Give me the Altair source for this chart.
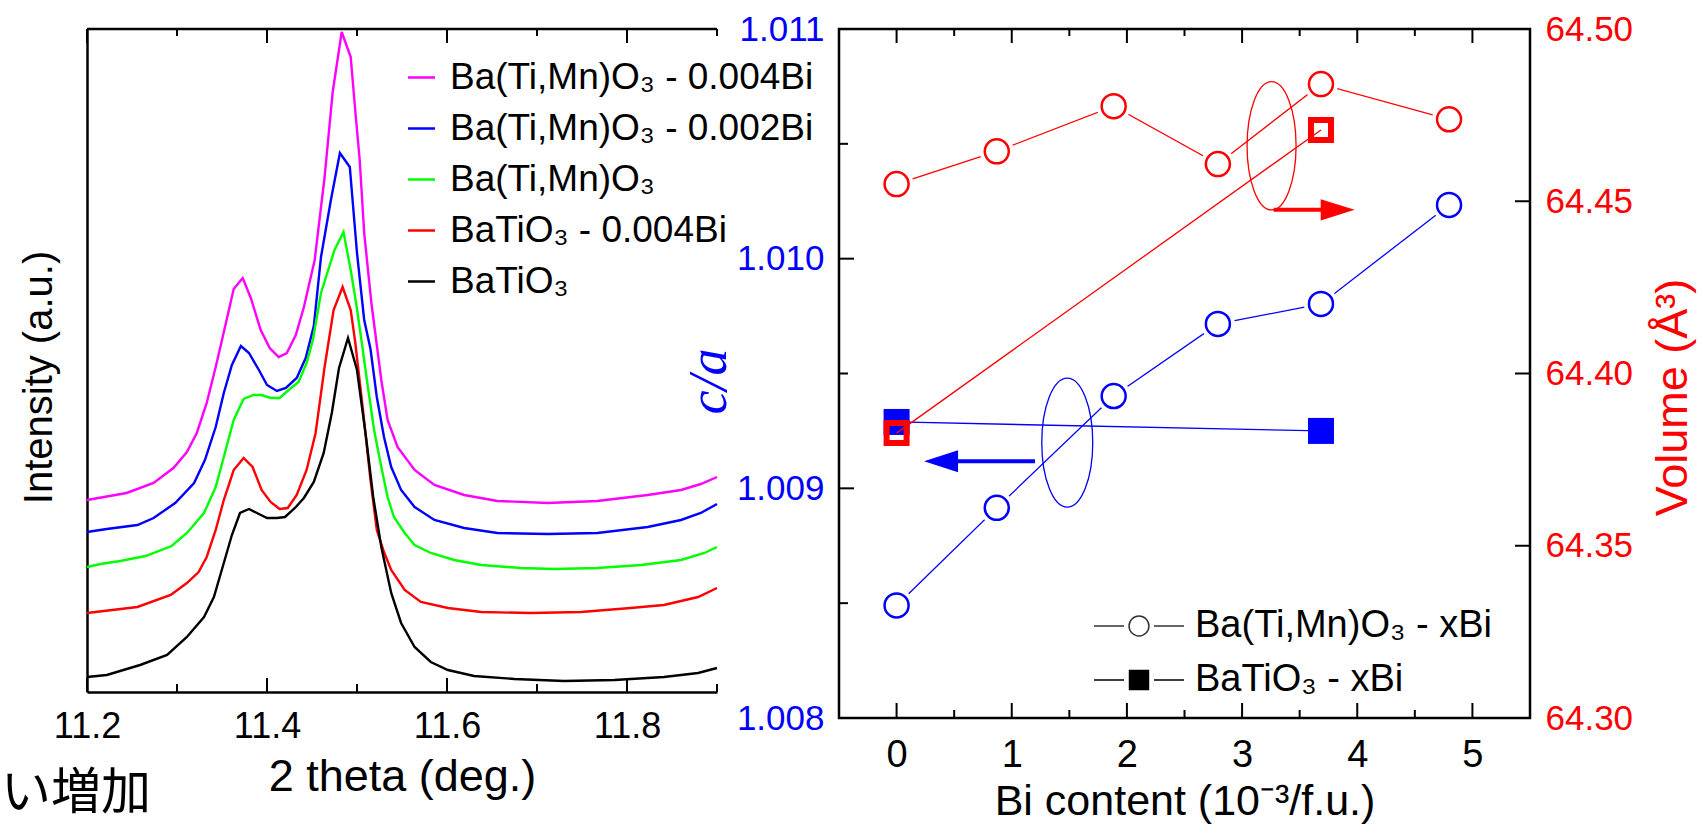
import altair as alt
import pandas as pd

FONT = "Liberation Sans"
SERIF = "Liberation Serif"
CJK = "Noto Sans CJK JP"

# ---------------- left panel: XRD profiles ----------------
S_MN4 = "Ba(Ti,Mn)O₃ - 0.004Bi"
S_MN2 = "Ba(Ti,Mn)O₃ - 0.002Bi"
S_MN = "Ba(Ti,Mn)O₃"
S_BT4 = "BaTiO₃ - 0.004Bi"
S_BT = "BaTiO₃"
series_order = [S_MN4, S_MN2, S_MN, S_BT4, S_BT]
series_colors = ["#FF00FF", "#0000FF", "#00FF00", "#FF0000", "#000000"]

theta_mn4 = [11.200, 11.244, 11.274, 11.296, 11.311, 11.322, 11.333, 11.343, 11.350, 11.363,
             11.373, 11.382, 11.393, 11.403, 11.413, 11.422, 11.432, 11.441, 11.453, 11.464,
             11.473, 11.483, 11.493, 11.498, 11.503, 11.508, 11.516, 11.523, 11.527, 11.534,
             11.545, 11.564, 11.586, 11.619, 11.656, 11.712, 11.767, 11.823, 11.860, 11.882, 11.900]
int_mn4 = [192, 199, 209, 224, 240, 259, 289, 325, 352, 403,
           414, 394, 362, 344, 335, 339, 357, 385, 432, 515,
           600, 660, 635, 582, 532, 459, 389, 340, 312, 272,
           245, 222, 207, 197, 191, 189, 191, 197, 202, 208, 215]

theta_mn2 = [11.200, 11.222, 11.256, 11.274, 11.298, 11.319, 11.331, 11.343, 11.352, 11.361,
             11.371, 11.380, 11.391, 11.400, 11.411, 11.421, 11.433, 11.443, 11.452, 11.460,
             11.471, 11.481, 11.492, 11.500, 11.508, 11.515, 11.522, 11.530, 11.538, 11.549,
             11.564, 11.586, 11.619, 11.656, 11.712, 11.767, 11.823, 11.860, 11.882, 11.900]
int_mn2 = [160, 163, 167, 174, 189, 209, 232, 265, 299, 327,
           346, 339, 322, 307, 301, 304, 314, 334, 366, 435,
           492, 539, 525, 439, 372, 343, 295, 255, 225, 202,
           185, 172, 164, 159, 158, 159, 165, 172, 179, 188]

theta_mn = [11.200, 11.215, 11.237, 11.265, 11.294, 11.311, 11.330, 11.343, 11.352, 11.363,
            11.374, 11.385, 11.394, 11.404, 11.414, 11.424, 11.435, 11.444, 11.451, 11.460,
            11.475, 11.485, 11.493, 11.499, 11.506, 11.511, 11.519, 11.527, 11.534, 11.541,
            11.553, 11.564, 11.582, 11.608, 11.638, 11.682, 11.719, 11.767, 11.816, 11.860,
            11.886, 11.900]
int_mn = [125, 128, 131, 136, 146, 159, 179, 205, 235, 272,
          293, 297, 297, 294, 294, 302, 310, 329, 352, 399,
          442, 460, 422, 389, 345, 312, 262, 225, 195, 175,
          159, 147, 139, 132, 127, 124, 123, 124, 127, 132,
          139, 145]

theta_bt4 = [11.200, 11.256, 11.293, 11.311, 11.324, 11.333, 11.343, 11.352, 11.363, 11.374,
             11.384, 11.394, 11.404, 11.414, 11.423, 11.433, 11.444, 11.454, 11.464, 11.474,
             11.484, 11.493, 11.498, 11.507, 11.515, 11.522, 11.530, 11.538, 11.553, 11.571,
             11.601, 11.638, 11.693, 11.749, 11.804, 11.841, 11.879, 11.900]
int_bt4 = [79, 85, 97, 109, 120, 135, 162, 192, 222, 234,
           225, 202, 190, 183, 184, 197, 222, 259, 325, 382,
           405, 382, 350, 279, 212, 162, 140, 122, 102, 90,
           84, 80, 79, 80, 84, 87, 95, 104]

theta_bt = [11.200, 11.222, 11.259, 11.289, 11.311, 11.330, 11.341, 11.352, 11.361, 11.370,
            11.380, 11.391, 11.400, 11.411, 11.420, 11.431, 11.441, 11.452, 11.463, 11.472,
            11.480, 11.490, 11.500, 11.510, 11.518, 11.527, 11.538, 11.549, 11.564, 11.582,
            11.601, 11.630, 11.675, 11.730, 11.786, 11.841, 11.879, 11.900]
int_bt = [15, 17, 27, 37, 55, 75, 95, 129, 157, 179,
          183, 178, 174, 174, 175, 184, 194, 210, 239, 279,
          324, 354, 322, 255, 195, 145, 99, 69, 45, 30,
          22, 16, 13, 11, 12, 15, 19, 24]

lx_label_values = [11.2, 11.4, 11.6, 11.8]
lx_major = [11.2, 11.4, 11.6, 11.8]
lx_minor = [11.3, 11.5, 11.7, 11.9]
cut_text = "い増加"

# ---------------- right panel: c/a and volume ----------------
bi_mn = [0.0, 0.87, 1.885, 2.79, 3.685, 4.797]
ca_mn = [1.00849, 1.008915, 1.009402, 1.009716, 1.009803, 1.010234]
vol_mn = [64.455, 64.4645, 64.4776, 64.4608, 64.484, 64.4738]
bi_bt = [0.0, 3.685]
ca_bt = [1.009289, 1.00925]
vol_bt = [64.3827, 64.4707]

rx_values = [0, 1, 2, 3, 4, 5]
rx_minor = [0.5, 1.5, 2.5, 3.5, 4.5]
ca_values = [1.008, 1.009, 1.010, 1.011]
ca_major = [1.009, 1.010]
ca_minor = [1.0085, 1.0095, 1.0105]
vol_values = [64.30, 64.35, 64.40, 64.45, 64.50]
vol_major = [64.35, 64.40, 64.45]

LEG_MN = "Ba(Ti,Mn)O₃ - xBi"
LEG_BT = "BaTiO₃ - xBi"
leg_order = [LEG_MN, LEG_BT]

# annotation anchors (data coordinates)
ELL_B = {"x": [1.482], "y": [1.0091989]}
ARR_B = {"x0": [0.50], "x1": [1.202], "y": [1.009118]}
HEAD_B = {"x": [0.386], "y": [1.009118]}
ELL_R = {"x": [3.256], "y": [64.4661]}
ARR_R = {"x0": [3.274], "x1": [3.72], "y": [64.4475]}
HEAD_R = {"x": [3.830], "y": [64.4475]}

ELL_B_PATH = "M0,-1 A0.395,1 0 1,1 0,1 A0.395,1 0 1,1 0,-1 Z"
ELL_R_PATH = "M0,-1 A0.382,1 0 1,1 0,1 A0.382,1 0 1,1 0,-1 Z"
TRI_R_PATH = "M-1,-0.62 L1,0 L-1,0.62 Z"
TRI_L_PATH = "M1,-0.65 L-1,0 L1,0.65 Z"
LEG_CIRC_PATH = ("M-3.75,0 L-1.25,0 M1.25,0 L3.75,0 "
                 "M0.83,0 A0.83,0.83 0 1,1 -0.83,0 A0.83,0.83 0 1,1 0.83,0")
LEG_SQ_PATH = "M-3.75,0 L-1.25,0 M1.25,0 L3.75,0 M-0.79,-0.79 L0.79,-0.79 L0.79,0.79 L-0.79,0.79 Z"

BLUE = "#0000FF"
RED = "#FF0000"

# ================= left panel =================
LW, LH = 630, 663
xl_scale = alt.Scale(domain=[11.2, 11.9], nice=False, zero=False)
yl_scale = alt.Scale(domain=[0, 663], nice=False, zero=False)

x_axis_l = alt.Axis(values=lx_label_values, format=".1f", labelFont=FONT, labelFontSize=36,
                    labelColor="black", labelPadding=17, labelFlush=False, ticks=False, tickSize=0,
                    domain=True, domainColor="black", domainWidth=2.5,
                    title="2 theta (deg.)", titleFont=FONT, titleFontSize=45,
                    titleFontWeight="normal", titleColor="black", titleY=84,
                    titleBaseline="middle", titleAlign="center", grid=False)
y_axis_l = alt.Axis(labels=False, ticks=False, tickSize=0, domain=True, domainColor="black",
                    domainWidth=2.5, title="Intensity (a.u.)", titleFont=FONT, titleFontSize=40,
                    titleFontWeight="normal", titleColor="black", titleAngle=270, titleX=-48,
                    titleY=348, titleAlign="center", titleBaseline="middle", grid=False)


def XL(f):
    return alt.X(f"{f}:Q", scale=xl_scale, axis=x_axis_l)


def curve_df(name, th, inten):
    assert len(th) == len(inten), name
    return pd.DataFrame({"theta": th, "intensity": inten, "sample": name})


xrd = pd.concat([
    curve_df(S_MN4, theta_mn4, int_mn4),
    curve_df(S_MN2, theta_mn2, int_mn2),
    curve_df(S_MN, theta_mn, int_mn),
    curve_df(S_BT4, theta_bt4, int_bt4),
    curve_df(S_BT, theta_bt, int_bt),
], ignore_index=True)

curves = alt.Chart(xrd).mark_line(strokeWidth=2.4).encode(
    x=XL("theta"),
    y=alt.Y("intensity:Q", scale=yl_scale, axis=y_axis_l),
    color=alt.Color("sample:N", sort=series_order,
                    scale=alt.Scale(domain=series_order, range=series_colors),
                    legend=alt.Legend(title=None, orient="none", legendX=316, legendY=30,
                                      symbolType="stroke", symbolSize=729, symbolStrokeWidth=2.5,
                                      labelFont=FONT, labelFontSize=37, labelColor="black",
                                      rowPadding=13, labelOffset=10, padding=0, labelLimit=800)),
)


def xl_ticks(values, y0, y1):
    return alt.Chart(pd.DataFrame({"v": values})).mark_rule(color="black", strokeWidth=2).encode(
        x=XL("v"), y=alt.value(y0), y2=alt.value(y1))


top_spine_l = alt.Chart(pd.DataFrame({"a": [0]})).mark_rule(color="black", strokeWidth=2.5).encode(
    x=alt.value(0), x2=alt.value(LW), y=alt.value(0))

cut_label = alt.Chart(pd.DataFrame({"t": [cut_text]})).mark_text(
    font=CJK, fontSize=50, align="left", baseline="middle", color="black").encode(
    x=alt.value(-86), y=alt.value(765), text="t:N")

left = alt.layer(
    curves,
    xl_ticks(lx_major, LH, LH - 14), xl_ticks(lx_minor, LH, LH - 8),
    xl_ticks(lx_major, 0, 14), xl_ticks(lx_minor, 0, 7),
    top_spine_l, cut_label,
).properties(width=LW, height=LH, view=alt.ViewBackground(stroke="transparent"))

# ================= right panel =================
RW, RH = 691, 689
xr_scale = alt.Scale(domain=[-0.5, 5.5], nice=False, zero=False)
ca_scale = alt.Scale(domain=[1.008, 1.011], nice=False, zero=False)
vol_scale = alt.Scale(domain=[64.30, 64.50], nice=False, zero=False)

x_axis_r = alt.Axis(values=rx_values, format="d", labelFont=FONT, labelFontSize=38,
                    labelColor="black", labelPadding=18, labelFlush=False, ticks=False, tickSize=0,
                    domain=False, title="Bi content (10⁻³/f.u.)", titleFont=FONT, titleFontSize=43,
                    titleFontWeight="normal", titleColor="black", titleY=83,
                    titleBaseline="middle", titleAlign="center", grid=False)
ca_axis = alt.Axis(orient="left", values=ca_values, format=".3f", labelFont=FONT, labelFontSize=35,
                   labelColor=BLUE, labelPadding=15, ticks=False, tickSize=0, domain=False,
                   title="c/a", titleFont=SERIF, titleFontStyle="italic", titleFontSize=54,
                   titleFontWeight="normal", titleColor=BLUE, titleAngle=270, titleX=-130,
                   titleY=352, titleAlign="center", titleBaseline="middle", grid=False)
vol_axis = alt.Axis(orient="right", values=vol_values, format=".2f", labelFont=FONT, labelFontSize=35,
                    labelColor=RED, labelPadding=15, ticks=False, tickSize=0, domain=False,
                    title="Volume (Å³)", titleFont=FONT, titleFontSize=45, titleFontWeight="normal",
                    titleColor=RED, titleAngle=270, titleX=142, titleY=368, titleAlign="center",
                    titleBaseline="middle", grid=False)


def XR(f):
    return alt.X(f"{f}:Q", scale=xr_scale, axis=x_axis_r)


def YCA(f):
    return alt.Y(f"{f}:Q", scale=ca_scale, axis=ca_axis)


def YV(f):
    return alt.Y(f"{f}:Q", scale=vol_scale, axis=vol_axis)


mn_df = pd.DataFrame({"bi": bi_mn, "ca": ca_mn, "vol": vol_mn})
bt_df = pd.DataFrame({"bi": bi_bt, "ca": ca_bt, "vol": vol_bt})


def series_layers(Y, field, color, square_open):
    line_mn = alt.Chart(mn_df).mark_line(color=color, strokeWidth=1.3).encode(x=XR("bi"), y=Y(field))
    line_bt = alt.Chart(bt_df).mark_line(color=color, strokeWidth=1.3).encode(x=XR("bi"), y=Y(field))
    halo = alt.Chart(mn_df).mark_point(filled=True, color="white", size=1156, opacity=1,
                                       strokeWidth=0).encode(x=XR("bi"), y=Y(field))
    circ = alt.Chart(mn_df).mark_point(shape="circle", filled=False, color=color, size=576,
                                       strokeWidth=2.5, opacity=1).encode(x=XR("bi"), y=Y(field))
    if square_open:
        sq = alt.Chart(bt_df).mark_point(shape="square", filled=False, color=color, size=400,
                                         strokeWidth=6, opacity=1).encode(x=XR("bi"), y=Y(field))
    else:
        sq = alt.Chart(bt_df).mark_point(shape="square", filled=True, color=color, size=676,
                                         opacity=1).encode(x=XR("bi"), y=Y(field))
    return line_mn, line_bt, halo, circ, sq


def annot(Y, ell, ell_path, ell_size, arr, head, head_path, color):
    e = alt.Chart(pd.DataFrame(ell)).mark_point(shape=ell_path, size=ell_size, filled=False,
                                                color=color, strokeWidth=1.3, opacity=1).encode(
        x=XR("x"), y=Y("y"))
    a = alt.Chart(pd.DataFrame(arr)).mark_rule(color=color, strokeWidth=4).encode(
        x=XR("x0"), x2=alt.X2("x1:Q"), y=Y("y"))
    h = alt.Chart(pd.DataFrame(head)).mark_point(shape=head_path, size=1156, filled=True,
                                                 color=color, opacity=1).encode(x=XR("x"), y=Y("y"))
    return e, a, h


def xr_ticks(values, y0, y1):
    return alt.Chart(pd.DataFrame({"v": values})).mark_rule(color="black", strokeWidth=2).encode(
        x=XR("v"), y=alt.value(y0), y2=alt.value(y1))


def y_ticks(values, Y, x0, x1):
    return alt.Chart(pd.DataFrame({"v": values})).mark_rule(color="black", strokeWidth=2).encode(
        y=Y("v"), x=alt.value(x0), x2=alt.value(x1))


def leg_r():
    # legends of a concatenated chart are placed relative to the first panel's origin
    return alt.Legend(title=None, orient="none", legendX=1033, legendY=578,
                      symbolSize=576, symbolStrokeColor="black", symbolStrokeWidth=1.5,
                      symbolOpacity=1, labelFont=FONT, labelFontSize=38, labelColor="black",
                      rowPadding=16, labelOffset=37, padding=0, labelLimit=800)


legend_r = alt.Chart(pd.DataFrame({"series": leg_order})).mark_point(
    opacity=0, strokeWidth=1.5).encode(
    x=XR("dummy"),
    shape=alt.Shape("series:N", sort=leg_order,
                    scale=alt.Scale(domain=leg_order, range=[LEG_CIRC_PATH, LEG_SQ_PATH]),
                    legend=leg_r()),
    fill=alt.Fill("series:N", sort=leg_order,
                  scale=alt.Scale(domain=leg_order, range=["transparent", "black"]),
                  legend=leg_r()),
    stroke=alt.Stroke("series:N", sort=leg_order,
                      scale=alt.Scale(domain=leg_order, range=["#333333", "black"]),
                      legend=leg_r()),
).transform_calculate(dummy="-1")

b_line_mn, b_line_bt, b_halo, b_circ, b_sq = series_layers(YCA, "ca", BLUE, False)
b_ell, b_arr, b_head = annot(YCA, ELL_B, ELL_B_PATH, 16641, ARR_B, HEAD_B, TRI_L_PATH, BLUE)

ca_group = alt.layer(
    b_line_mn, b_line_bt, b_ell, b_arr, b_head, b_halo, b_circ, b_sq,
    y_ticks(ca_major, YCA, 0, 15), y_ticks(ca_minor, YCA, 0, 9),
    xr_ticks(rx_values, RH, RH - 15), xr_ticks(rx_minor, RH, RH - 8),
    xr_ticks(rx_values, 0, 14), xr_ticks(rx_minor, 0, 7),
    legend_r,
)

r_line_mn, r_line_bt, r_halo, r_circ, r_sq = series_layers(YV, "vol", RED, True)
r_ell, r_arr, r_head = annot(YV, ELL_R, ELL_R_PATH, 16461, ARR_R, HEAD_R, TRI_R_PATH, RED)

vol_group = alt.layer(
    r_line_mn, r_line_bt, r_ell, r_arr, r_head, r_halo, r_circ, r_sq,
    y_ticks(vol_major, YV, RW, RW - 15),
)

right = alt.layer(ca_group, vol_group).resolve_scale(y="independent").properties(
    width=RW, height=RH, view=alt.ViewBackground(stroke="black", strokeWidth=2.5))

chart = alt.hconcat(left, right, spacing=122, bounds="flush").properties(
    padding={"left": 0, "top": 10, "right": 0, "bottom": 0}
).configure(background="white", font=FONT).configure_axis(grid=False)

chart.save("out.html", embed_options={"renderer": "svg", "actions": False})
